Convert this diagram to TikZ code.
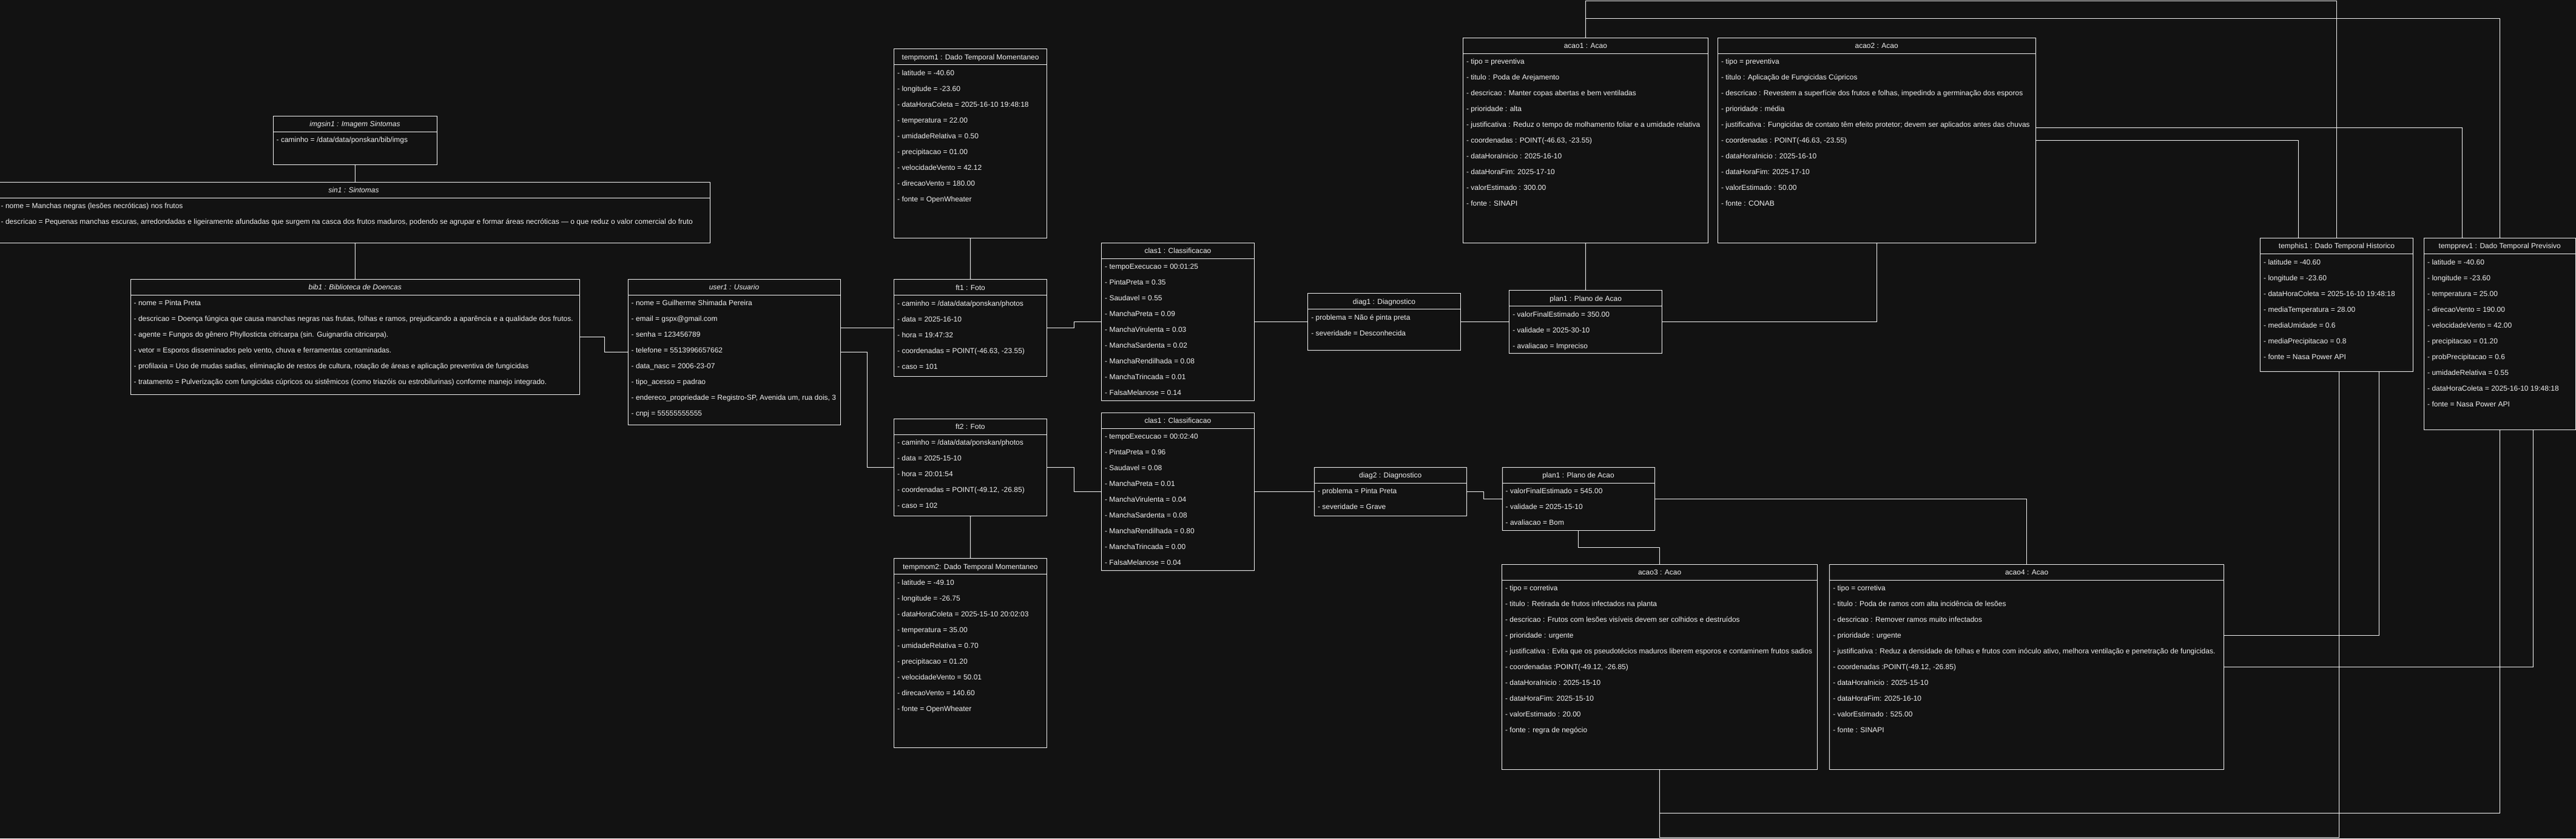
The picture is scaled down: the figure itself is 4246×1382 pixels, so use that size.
\documentclass[tikz,border=0pt]{standalone}
\usepackage{fontspec}
\setmainfont{Liberation Sans}
\definecolor{bgc}{HTML}{121212}
\definecolor{linec}{HTML}{F2F2F2}
\definecolor{txtc}{HTML}{F0F0F0}
\tikzset{
  objbox/.style={draw=linec, fill=bgc, line width=1pt, rectangle, inner sep=0pt, outer sep=0pt},
  conn/.style={draw=linec, line width=1pt},
  rowtext/.style={text=txtc, inner sep=0pt, font=\fontsize{12}{14}\selectfont},
  ttl/.style={rowtext},
  ittl/.style={rowtext, font=\fontsize{12}{14}\selectfont\itshape},
}
\newcommand\umlbox[8]{%
  \node[objbox, minimum width={#4-#2}, minimum height={#5-#3}, anchor=north west] (#1) at (#2,#3) {};
  \draw[conn] ([yshift=-26pt]#1.north west) -- ([yshift=-26pt]#1.north east);
  \node[#6, anchor=base] (#1-t) at ([yshift=-17.3pt]#1.north) {#7};
  \foreach \rowtxt [count=\rowk from 0] in {#8} {
    \node[rowtext, anchor=base west] (#1-r\rowk) at ([xshift=5.5pt,yshift={-(43.5+26*\rowk)}]#1.north west) {\rowtxt};
  }%
}
\begin{document}
\begin{tikzpicture}[x=1pt,y=-1pt]
\fill[bgc] (0,0) rectangle (4246,1382);
\useasboundingbox (0,0) rectangle (4246,1382);

\umlbox{imgsin1}{450}{191}{720}{271}{ittl}{imgsin1 : Imagem Sintomas}{{- caminho = /data/data/ponskan/bib/imgs}}

\umlbox{sin1}{-4}{300}{1170}{400}{ittl}{sin1 : Sintomas}{{- nome = Manchas negras (lesões necróticas) nos frutos},{- descricao = Pequenas manchas escuras, arredondadas e ligeiramente afundadas que surgem na casca dos frutos maduros, podendo se agrupar e formar áreas necróticas — o que reduz o valor comercial do fruto}}

\umlbox{bib1}{215}{460.3}{955.4}{650}{ittl}{bib1 : Biblioteca de Doencas}{{- nome = Pinta Preta},{- descricao = Doença fúngica que causa manchas negras nas frutas, folhas e ramos, prejudicando a aparência e a qualidade dos frutos.},{- agente = Fungos do gênero Phyllosticta citricarpa (sin. Guignardia citricarpa).},{- vetor = Esporos disseminados pelo vento, chuva e ferramentas contaminadas.},{- profilaxia = Uso de mudas sadias, eliminação de restos de cultura, rotação de áreas e aplicação preventiva de fungicidas},{- tratamento = Pulverização com fungicidas cúpricos ou sistêmicos (como triazóis ou estrobilurinas) conforme manejo integrado.}}

\umlbox{user1}{1035}{460.3}{1385}{700}{ittl}{user1 : Usuario}{{- nome = Guilherme Shimada Pereira},{- email = gspx@gmail.com},{- senha = 123456789},{- telefone = 5513996657662},{- data\_nasc = 2006-23-07},{- tipo\_acesso = padrao},{- endereco\_propriedade = Registro-SP, Avenida um, rua dois, 3},{- cnpj = 55555555555}}

\umlbox{tempmom1}{1473.5}{80.7}{1725.7}{392}{ttl}{tempmom1 : Dado Temporal Momentaneo}{{- latitude = -40.60},{- longitude = -23.60},{- dataHoraColeta = 2025-16-10 19:48:18},{- temperatura = 22.00},{- umidadeRelativa = 0.50},{- precipitacao = 01.00},{- velocidadeVento = 42.12},{- direcaoVento = 180.00},{- fonte = OpenWheater}}

\umlbox{ft1}{1473.5}{460.7}{1725.7}{620}{ttl}{ft1 : Foto}{{- caminho = /data/data/ponskan/photos},{- data = 2025-16-10},{- hora = 19:47:32},{- coordenadas = POINT(-46.63, -23.55)},{- caso = 101}}

\umlbox{clas1}{1815.5}{400.3}{2067.4}{660.3}{ttl}{clas1 : Classificacao}{{- tempoExecucao = 00:01:25},{- PintaPreta = 0.35},{- Saudavel = 0.55},{- ManchaPreta = 0.09},{- ManchaVirulenta = 0.03},{- ManchaSardenta = 0.02},{- ManchaRendilhada = 0.08},{- ManchaTrincada = 0.01},{- FalsaMelanose = 0.14}}

\umlbox{diag1}{2155.7}{483.7}{2407.3}{577.3}{ttl}{diag1 : Diagnostico}{{- problema = Não é pinta preta},{- severidade = Desconhecida}}

\umlbox{plan1}{2487.6}{478.7}{2739.8}{582.3}{ttl}{plan1 : Plano de Acao}{{- valorFinalEstimado = 350.00},{- validade = 2025-30-10},{- avaliacao = Impreciso}}

\umlbox{acao1}{2411.3}{62.3}{2815.4}{400.3}{ttl}{acao1 : Acao}{{- tipo = preventiva},{- titulo : Poda de Arejamento},{- descricao : Manter copas abertas e bem ventiladas},{- prioridade : alta},{- justificativa : Reduz o tempo de molhamento foliar e a umidade relativa},{- coordenadas : POINT(-46.63, -23.55)},{- dataHoraInicio : 2025-16-10},{- dataHoraFim: 2025-17-10},{- valorEstimado : 300.00},{- fonte : SINAPI}}

\umlbox{acao2}{2831.3}{62.3}{3355}{400.3}{ttl}{acao2 : Acao}{{- tipo = preventiva},{- titulo : Aplicação de Fungicidas Cúpricos},{- descricao : Revestem a superfície dos frutos e folhas, impedindo a germinação dos esporos},{- prioridade : média},{- justificativa : Fungicidas de contato têm efeito protetor; devem ser aplicados antes das chuvas},{- coordenadas : POINT(-46.63, -23.55)},{- dataHoraInicio : 2025-16-10},{- dataHoraFim: 2025-17-10},{- valorEstimado : 50.00},{- fonte : CONAB}}

\umlbox{temphis1}{3725.5}{392.6}{3977.5}{612}{ttl}{temphis1 : Dado Temporal Historico}{{- latitude = -40.60},{- longitude = -23.60},{- dataHoraColeta = 2025-16-10 19:48:18},{- mediaTemperatura = 28.00},{- mediaUmidade = 0.6},{- mediaPrecipitacao = 0.8},{- fonte = Nasa Power API}}

\umlbox{tempprev1}{3995.5}{392.6}{4245}{708}{ttl}{tempprev1 : Dado Temporal Previsivo}{{- latitude = -40.60},{- longitude = -23.60},{- temperatura = 25.00},{- direcaoVento = 190.00},{- velocidadeVento = 42.00},{- precipitacao = 01.20},{- probPrecipitacao = 0.6},{- umidadeRelativa = 0.55},{- dataHoraColeta = 2025-16-10 19:48:18},{- fonte = Nasa Power API}}

\umlbox{ft2}{1473.3}{690.2}{1725.5}{850.2}{ttl}{ft2 : Foto}{{- caminho = /data/data/ponskan/photos},{- data = 2025-15-10},{- hora = 20:01:54},{- coordenadas = POINT(-49.12, -26.85)},{- caso = 102}}

\umlbox{tempmom2}{1473.3}{920.8}{1725.5}{1232.2}{ttl}{tempmom2: Dado Temporal Momentaneo}{{- latitude = -49.10},{- longitude = -26.75},{- dataHoraColeta = 2025-15-10 20:02:03},{- temperatura = 35.00},{- umidadeRelativa = 0.70},{- precipitacao = 01.20},{- velocidadeVento = 50.01},{- direcaoVento = 140.60},{- fonte = OpenWheater}}

\umlbox{clas2}{1815.3}{680.4}{2067.5}{940.2}{ttl}{clas1 : Classificacao}{{- tempoExecucao = 00:02:40},{- PintaPreta = 0.96},{- Saudavel = 0.08},{- ManchaPreta = 0.01},{- ManchaVirulenta = 0.04},{- ManchaSardenta = 0.08},{- ManchaRendilhada = 0.80},{- ManchaTrincada = 0.00},{- FalsaMelanose = 0.04}}

\umlbox{diag2}{2166.3}{770.3}{2417.1}{850.3}{ttl}{diag2 : Diagnostico}{{- problema = Pinta Preta},{- severidade = Grave}}

\umlbox{plan2}{2476}{770.3}{2727}{874.7}{ttl}{plan1 : Plano de Acao}{{- valorFinalEstimado = 545.00},{- validade = 2025-15-10},{- avaliacao = Bom}}

\umlbox{acao3}{2475.4}{930.3}{2995.8}{1268.3}{ttl}{acao3 : Acao}{{- tipo = corretiva},{- titulo : Retirada de frutos infectados na planta},{- descricao : Frutos com lesões visíveis devem ser colhidos e destruídos},{- prioridade : urgente},{- justificativa : Evita que os pseudotécios maduros liberem esporos e contaminem frutos sadios},{- coordenadas :POINT(-49.12, -26.85)},{- dataHoraInicio : 2025-15-10},{- dataHoraFim: 2025-15-10},{- valorEstimado : 20.00},{- fonte : regra de negócio}}

\umlbox{acao4}{3015.6}{930.3}{3665.6}{1268.3}{ttl}{acao4 : Acao}{{- tipo = corretiva},{- titulo : Poda de ramos com alta incidência de lesões},{- descricao : Remover ramos muito infectados},{- prioridade : urgente},{- justificativa : Reduz a densidade de folhas e frutos com inóculo ativo, melhora ventilação e penetração de fungicidas.},{- coordenadas :POINT(-49.12, -26.85)},{- dataHoraInicio : 2025-15-10},{- dataHoraFim: 2025-16-10},{- valorEstimado : 525.00},{- fonte : SINAPI}}

% routing rows
\coordinate (ytop1) at (0,1.5);
\coordinate (ytop2) at (0,30.3);
\coordinate (y902) at (0,902.3);
\coordinate (yb1) at (0,1340.3);
\coordinate (yb2) at (0,1380.3);

% connectors
\draw[conn] (imgsin1.south) -- (imgsin1.south |- sin1.north);
\draw[conn] (bib1.north |- sin1.south) -- (bib1.north);
\draw[conn] (bib1.east) -- ++(41,0) |- (user1.west);
\draw[conn] (user1.east |- ft1.west) -- (ft1.west);
\draw[conn] (user1.east) -- ++(44.6,0) |- (ft2.west);
\draw[conn] (tempmom1.south) -- (ft1.north);
\draw[conn] (ft1.east) -- ++(45,0) |- (clas1.west);
\draw[conn] (clas1.east) -- (clas1.east -| diag1.west);
\draw[conn] (diag1.east) -- (diag1.east -| plan1.west);
\draw[conn] (plan1.north) -- (plan1.north |- acao1.south);
\draw[conn] (plan1.east) -| (acao2.south);
\draw[conn] (acao1.north) -- (acao1.north |- ytop1) -| (temphis1.north);
\draw[conn] (acao1.north) -- (acao1.north |- ytop2) -| (tempprev1.north);
\draw[conn] (acao2.east) -| ([xshift=-63.2pt]temphis1.north);
\draw[conn] ([yshift=21pt]acao2.east) -| ([xshift=-62pt]tempprev1.north);
\draw[conn] (ft2.south) -- (tempmom2.north);
\draw[conn] (ft2.east) -- ++(45,0) |- (clas2.west);
\draw[conn] (clas2.east) -- (clas2.east -| diag2.west);
\draw[conn] (diag2.east) -- ++(28.6,0) |- (plan2.west);
\draw[conn] (plan2.east) -| (acao4.north);
\draw[conn] (plan2.south) -- (plan2.south |- y902) -| (acao3.north);
\draw[conn] (acao3.south) -- (acao3.south |- yb1) -| (tempprev1.south);
\draw[conn] (acao3.south) -- (acao3.south |- yb2) -| ([xshift=4.3pt]temphis1.south);
\draw[conn] ([yshift=52pt]acao4.east) -| ([xshift=69.7pt]temphis1.south);
\draw[conn] (acao4.east) -| ([xshift=55pt]tempprev1.south);
\end{tikzpicture}
\end{document}
